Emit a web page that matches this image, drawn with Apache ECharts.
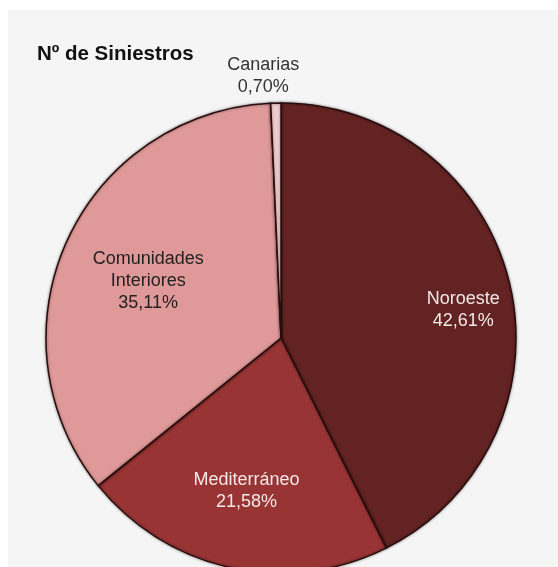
<!DOCTYPE html>
<html>
<head>
<meta charset="utf-8">
<script src="https://cdn.jsdelivr.net/npm/echarts@6/dist/echarts.min.js"></script>
<style>
html,body{margin:0;padding:0;background:#ffffff;width:558px;height:567px;overflow:hidden;}
#c{position:absolute;left:8px;top:10px;width:550px;height:557px;background:#f5f5f5;}
</style>
</head>
<body>
<div id="c"></div>
<script>
var categories = ['Noroeste', 'Mediterráneo', 'Comunidades Interiores', 'Canarias'];
var values = [42.61, 21.58, 35.11, 0.70];
var colors = ['#642323', '#983434', '#df9999', '#f1cccc'];
var labelColors = ['#f3e8e8', '#f3e8e8', '#222222', '#333333'];
var labelOffsets = [[65, 0], [-9, 35], [-23, -7], [-15, -141]];

var chart = echarts.init(document.getElementById('c'));
var data = categories.map(function (name, i) {
  return {
    name: name,
    value: values[i],
    itemStyle: { color: colors[i] },
    label: { color: labelColors[i], offset: labelOffsets[i] }
  };
});
chart.setOption({
  backgroundColor: 'transparent',
  animation: false,
  title: {
    text: 'Nº de Siniestros',
    left: 24,
    top: 29,
    textStyle: { fontFamily: 'Liberation Sans, Arial, sans-serif', fontSize: 20.5, fontWeight: 'bold', color: '#111' }
  },
  series: [{
    type: 'pie',
    center: [273, 328],
    radius: 235,
    startAngle: 90,
    clockwise: true,
    avoidLabelOverlap: false,
    label: {
      show: true,
      position: 'inside',
      fontFamily: 'Liberation Sans, Arial, sans-serif',
      fontSize: 18,
      lineHeight: 22,
      align: 'center',
      formatter: function (p) {
        return p.name.replace(' ', '\n') + '\n' + p.value.toFixed(2).replace('.', ',') + '%';
      }
    },
    labelLine: { show: false },
    itemStyle: {
      borderColor: '#2a0c0c',
      borderWidth: 1.5,
      shadowBlur: 3,
      shadowColor: 'rgba(0,0,0,0.45)'
    },
    data: data
  }]
});
</script>
</body>
</html>
